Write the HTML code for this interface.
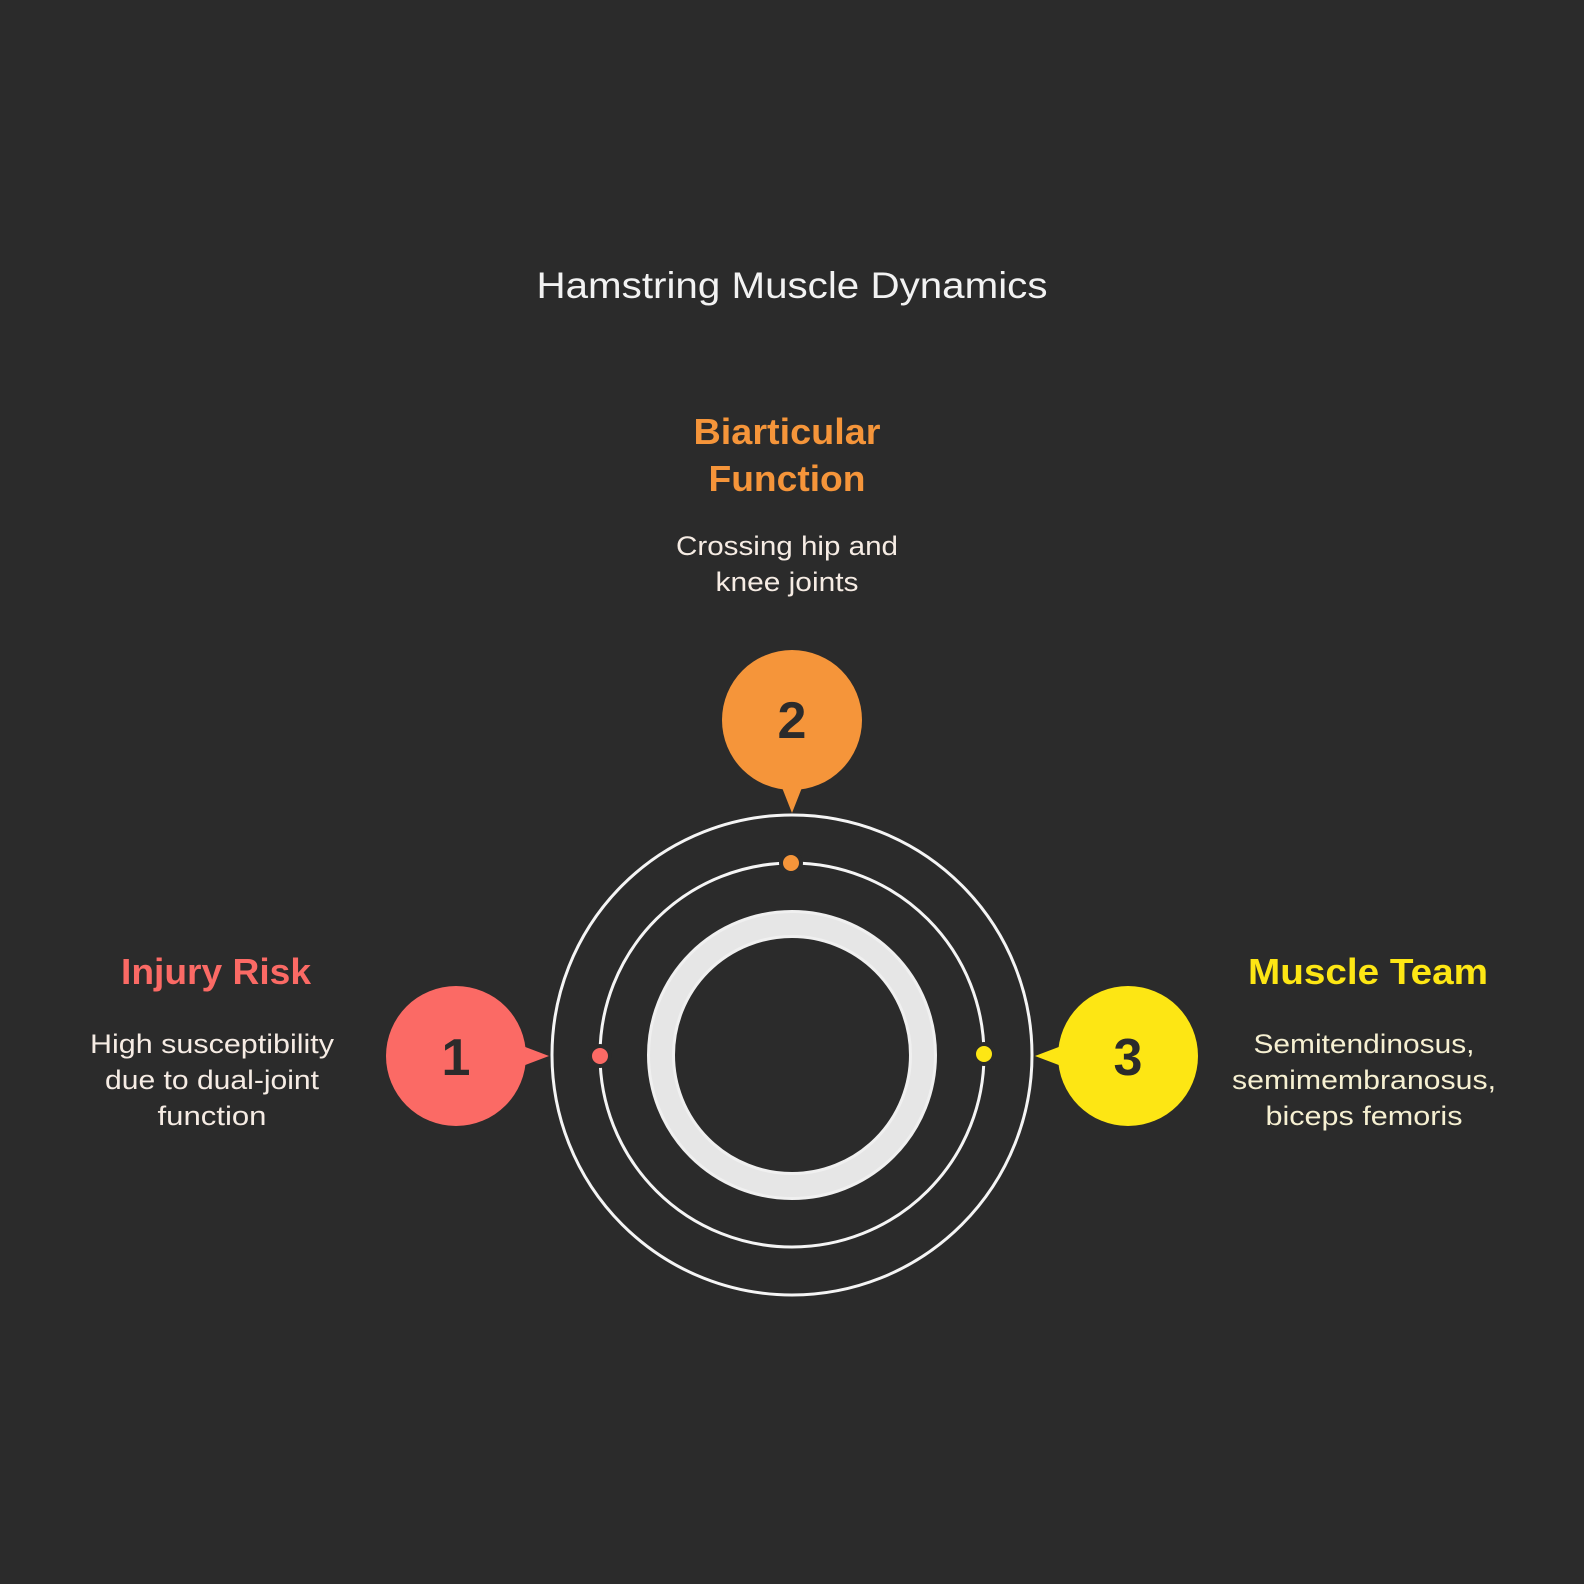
<!DOCTYPE html>
<html><head><meta charset="utf-8"><style>
html,body{margin:0;padding:0;background:#2b2b2b;}
svg{display:block;}
text{font-family:"Liberation Sans",Roboto,sans-serif;}
</style></head><body>
<svg width="1584" height="1584" viewBox="0 0 1584 1584" xmlns="http://www.w3.org/2000/svg">
<rect width="1584" height="1584" fill="#2b2b2b"/>
<text x="792" y="298" font-size="37" fill="#f2f2f2" text-anchor="middle" textLength="511" lengthAdjust="spacingAndGlyphs">Hamstring Muscle Dynamics</text>

<text x="787" y="444" font-size="36" font-weight="bold" fill="#f5953a" text-anchor="middle" textLength="187" lengthAdjust="spacingAndGlyphs">Biarticular</text>
<text x="787" y="491" font-size="36" font-weight="bold" fill="#f5953a" text-anchor="middle" textLength="157" lengthAdjust="spacingAndGlyphs">Function</text>
<text x="787" y="555" font-size="27" fill="#f6ece4" text-anchor="middle" textLength="222" lengthAdjust="spacingAndGlyphs">Crossing hip and</text>
<text x="787" y="591" font-size="27" fill="#f6ece4" text-anchor="middle" textLength="143" lengthAdjust="spacingAndGlyphs">knee joints</text>

<text x="216" y="984" font-size="36" font-weight="bold" fill="#fb6a65" text-anchor="middle" textLength="190" lengthAdjust="spacingAndGlyphs">Injury Risk</text>
<text x="212" y="1053" font-size="27" fill="#f6ece4" text-anchor="middle" textLength="244" lengthAdjust="spacingAndGlyphs">High susceptibility</text>
<text x="212" y="1089" font-size="27" fill="#f6ece4" text-anchor="middle" textLength="214" lengthAdjust="spacingAndGlyphs">due to dual-joint</text>
<text x="212" y="1125" font-size="27" fill="#f6ece4" text-anchor="middle" textLength="109" lengthAdjust="spacingAndGlyphs">function</text>

<text x="1368" y="984" font-size="36" font-weight="bold" fill="#fde614" text-anchor="middle" textLength="240" lengthAdjust="spacingAndGlyphs">Muscle Team</text>
<text x="1364" y="1053" font-size="27" fill="#f6f0d2" text-anchor="middle" textLength="221" lengthAdjust="spacingAndGlyphs">Semitendinosus,</text>
<text x="1364" y="1089" font-size="27" fill="#f6f0d2" text-anchor="middle" textLength="264" lengthAdjust="spacingAndGlyphs">semimembranosus,</text>
<text x="1364" y="1125" font-size="27" fill="#f6f0d2" text-anchor="middle" textLength="197" lengthAdjust="spacingAndGlyphs">biceps femoris</text>

<circle cx="792" cy="1055" r="240" fill="none" stroke="#f5f5f5" stroke-width="3"/>
<circle cx="792" cy="1055" r="192" fill="none" stroke="#f5f5f5" stroke-width="3"/>
<circle cx="792" cy="1055" r="131" fill="none" stroke="#f0f0f0" stroke-width="28"/>
<circle cx="792" cy="1055" r="131" fill="none" stroke="#e6e6e6" stroke-width="22"/>

<circle cx="791" cy="863" r="10" fill="#f5953a" stroke="#2b2b2b" stroke-width="4"/>
<circle cx="600" cy="1056" r="10" fill="#fb6a65" stroke="#2b2b2b" stroke-width="4"/>
<circle cx="984" cy="1054" r="10" fill="#fde614" stroke="#2b2b2b" stroke-width="4"/>

<circle cx="792" cy="720" r="70" fill="#f5953a"/>
<polygon points="781,785 803,785 792,813" fill="#f5953a"/>
<text x="792" y="738" font-size="52" font-weight="bold" fill="#2b2b2b" text-anchor="middle">2</text>

<circle cx="456" cy="1056" r="70" fill="#fb6a65"/>
<polygon points="520,1045 520,1067 549,1056" fill="#fb6a65"/>
<text x="456" y="1075" font-size="52" font-weight="bold" fill="#2b2b2b" text-anchor="middle">1</text>

<circle cx="1128" cy="1056" r="70" fill="#fde614"/>
<polygon points="1064,1045 1064,1067 1035,1056" fill="#fde614"/>
<text x="1128" y="1075" font-size="52" font-weight="bold" fill="#2b2b2b" text-anchor="middle">3</text>
</svg>
</body></html>
